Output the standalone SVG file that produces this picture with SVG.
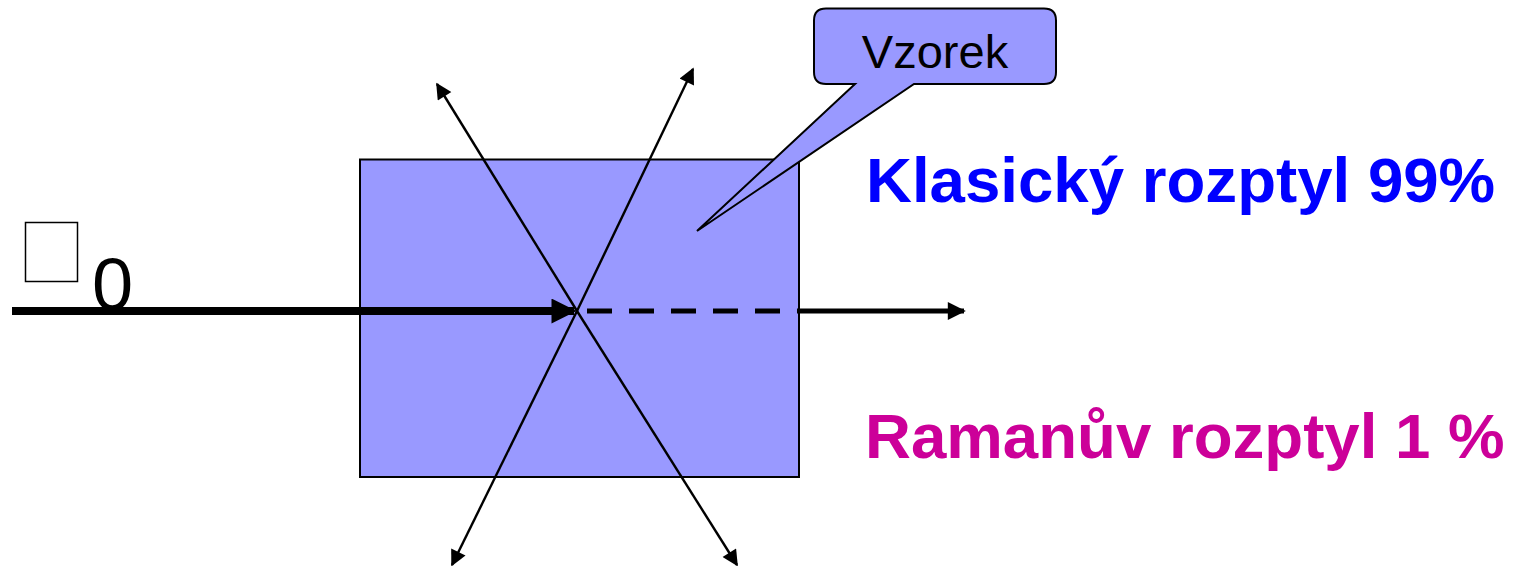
<svg xmlns="http://www.w3.org/2000/svg" width="1523" height="566" viewBox="0 0 1523 566">
<style>
.t{font-family:"Liberation Sans",Arial,sans-serif}
.thin{stroke:#000;stroke-width:2.4;fill:none}
</style>
<defs>
<marker id="ah" viewBox="0 0 10 10" refX="9" refY="5" markerWidth="19" markerHeight="16" markerUnits="userSpaceOnUse" orient="auto"><path d="M0,0 L10,5 L0,10 z" fill="#000"/></marker>
<marker id="ahMain" viewBox="0 0 10 10" refX="9" refY="5" markerWidth="27" markerHeight="25" markerUnits="userSpaceOnUse" orient="auto"><path d="M0,0 L10,5 L0,10 z" fill="#000"/></marker>
<marker id="ahOut" viewBox="0 0 10 10" refX="9" refY="5" markerWidth="20" markerHeight="18" markerUnits="userSpaceOnUse" orient="auto"><path d="M0,0 L10,5 L0,10 z" fill="#000"/></marker>
</defs>
<g id="sample"><rect x="360" y="159.5" width="439" height="317.5" fill="#9999FF" stroke="#000" stroke-width="2"/></g>
<g id="connectors">
<line x1="12" y1="311" x2="574" y2="311" stroke="#000" stroke-width="8" marker-end="url(#ahMain)"/>
<line x1="587" y1="311" x2="785" y2="311" stroke="#000" stroke-width="5" stroke-dasharray="25 17"/>
<line x1="797" y1="311" x2="964" y2="311" stroke="#000" stroke-width="5" marker-end="url(#ahOut)"/>
<line class="thin" x1="577" y1="311" x2="437" y2="84" marker-end="url(#ah)"/>
<line class="thin" x1="577" y1="311" x2="693" y2="69" marker-end="url(#ah)"/>
<line class="thin" x1="577" y1="311" x2="737" y2="565" marker-end="url(#ah)"/>
<line class="thin" x1="577" y1="311" x2="452" y2="565" marker-end="url(#ah)"/>
</g>
<g id="callout">
<path d="M826,8.5 H1044 Q1056,8.5 1056,20.5 V72 Q1056,84 1044,84 H914 L697,231 L855,84 H826 Q814,84 814,72 V20.5 Q814,8.5 826,8.5 Z" fill="#9999FF" stroke="#000" stroke-width="2"/>
<text class="t" x="935" y="68" font-size="47" text-anchor="middle">Vzorek</text>
</g>
<g id="incident-label">
<rect x="25.5" y="222.5" width="52" height="59" fill="none" stroke="#000" stroke-width="1.5"/>
<text class="t" x="92" y="310" font-size="74">0</text>
</g>
<g id="classic-label"><text class="t" x="866" y="202" font-size="63.6" font-weight="bold" fill="#0000FF">Klasický rozptyl 99%</text></g>
<g id="raman-label"><text class="t" x="865" y="458" font-size="63.6" font-weight="bold" fill="#CC0099">Ramanův rozptyl 1 %</text></g>
</svg>
